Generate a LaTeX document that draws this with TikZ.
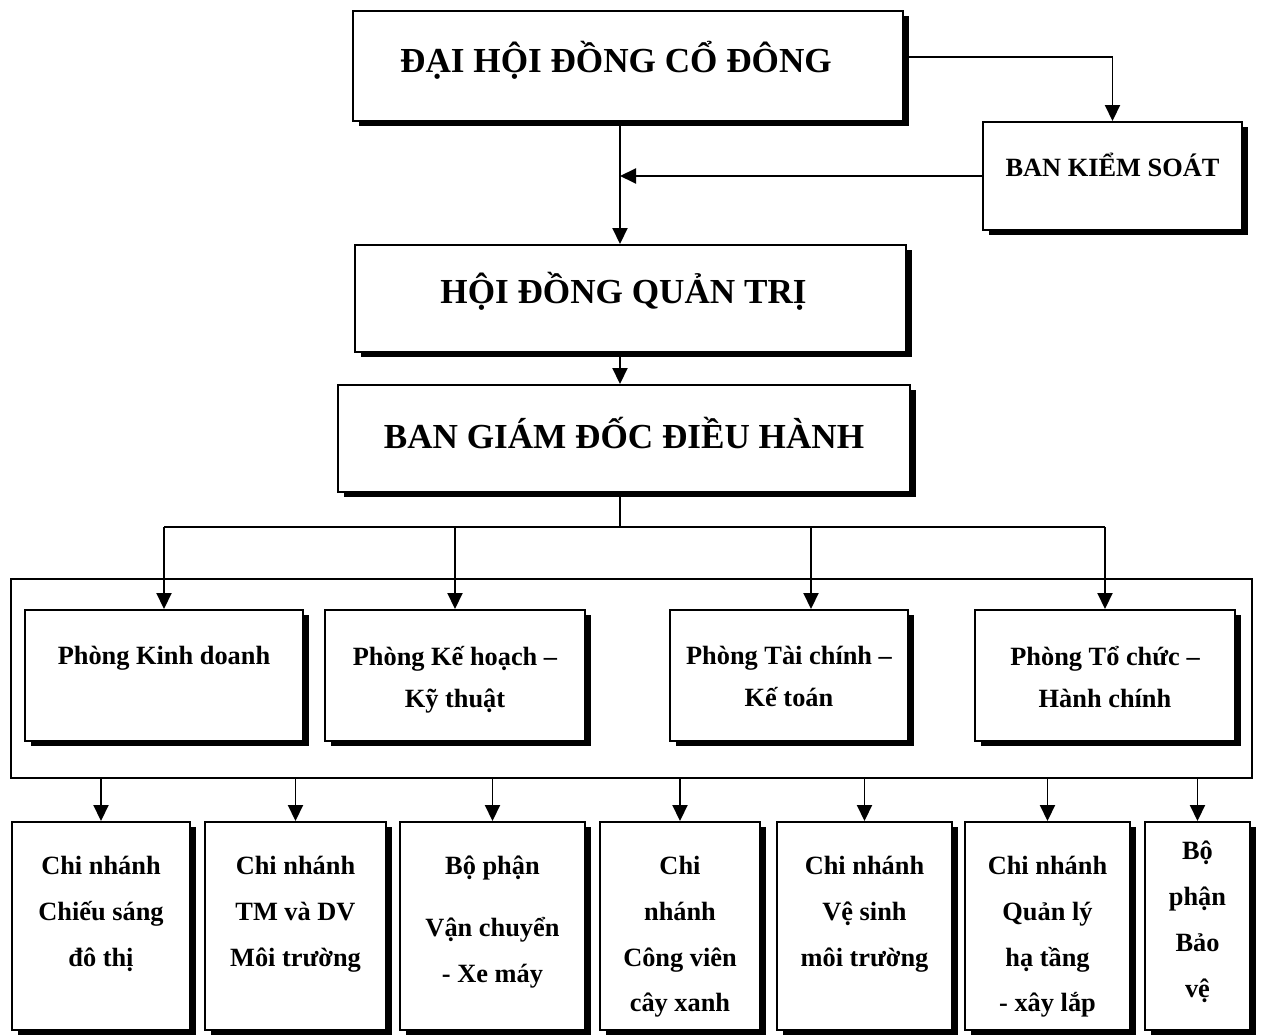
\documentclass[tikz,border=0pt]{standalone}
\usepackage{fontspec}
\setmainfont{Liberation Serif}
\usetikzlibrary{positioning,shadows,arrows.meta}
\tikzset{
  box/.style={draw, fill=white, line width=1.1pt, inner sep=0pt,
    drop shadow={shadow xshift=0.11cm, shadow yshift=-0.11cm, opacity=1, fill=black}},
  frame/.style={draw, line width=1.1pt, inner sep=0pt},
  title/.style={font=\fontsize{20}{24}\selectfont\bfseries, inner sep=0pt},
  lbl/.style={font=\fontsize{15}{26}\selectfont\bfseries, align=center, inner sep=0pt,
    execute at begin node=\strut},
  conn/.style={line width=1.1pt},
  arr/.style={-{Triangle[width=0.3cm,length=0.32cm]}}
}

\begin{document}
\begin{tikzpicture}
\useasboundingbox (0,0) rectangle (25.22,20.72);

% outer frame
\node[frame, minimum width=24.82cm, minimum height=3.98cm] (khoi) at (12.63,7.15) {};

% boxes
\node[box, minimum width=11cm, minimum height=2.2cm] (dhcd) at (12.56,19.40) {};
\node[box, minimum width=5.18cm, minimum height=2.16cm] (bks) at (22.25,17.20) {};
\node[box, minimum width=11.02cm, minimum height=2.14cm] (hdqt) at (12.61,14.75) {};
\node[box, minimum width=11.44cm, minimum height=2.14cm] (bgd) at (12.48,11.95) {};

\node[box, minimum width=5.56cm, minimum height=2.62cm] (pkd) at (3.28,7.21) {};
\node[box, minimum width=5.2cm, minimum height=2.62cm] (pkh) at (9.10,7.21) {};
\node[box, minimum width=4.76cm, minimum height=2.62cm] (ptc) at (15.78,7.21) {};
\node[box, minimum width=5.2cm, minimum height=2.62cm] (ptchc) at (22.10,7.21) {};

\node[box, minimum width=3.56cm, minimum height=4.16cm] (cs) at (2.02,2.20) {};
\node[box, minimum width=3.62cm, minimum height=4.16cm] (tmdv) at (5.91,2.20) {};
\node[box, minimum width=3.7cm, minimum height=4.16cm] (vc) at (9.85,2.20) {};
\node[box, minimum width=3.2cm, minimum height=4.16cm] (cvcx) at (13.60,2.20) {};
\node[box, minimum width=3.5cm, minimum height=4.16cm] (vs) at (17.29,2.20) {};
\node[box, minimum width=3.3cm, minimum height=4.16cm] (qlht) at (20.95,2.20) {};
\node[box, minimum width=2.1cm, minimum height=4.16cm] (bv) at (23.95,2.20) {};

% texts
\node[title] (dhcdt) at ([xshift=-0.24cm,yshift=0.12cm]dhcd.center) {ĐẠI HỘI ĐỒNG CỔ ĐÔNG};
\node[title, font=\fontsize{15}{18}\selectfont\bfseries] (bkst) at ([yshift=0.22cm]bks.center) {BAN KIỂM SOÁT};
\node[title] (hdqtt) at ([xshift=-0.14cm,yshift=0.15cm]hdqt.center) {HỘI ĐỒNG QUẢN TRỊ};
\node[title] (bgdt) at ([yshift=0.11cm]bgd.center) {BAN GIÁM ĐỐC ĐIỀU HÀNH};

\node[lbl, below=0.46cm of pkd.north] (pkdt) {Phòng Kinh doanh};
\node[lbl, below=0.74cm of pkh.north] (pkht) {Phòng Kế hoạch –\\[-2pt]Kỹ thuật};
\node[lbl, below=0.74cm of ptc.north] (ptct) {Phòng Tài chính –\\[-2pt]Kế toán};
\node[lbl, below=0.74cm of ptchc.north] (ptchct) {Phòng Tổ chức –\\[-2pt]Hành chính};

\node[lbl, below=0.7cm of cs.north] (cst) {Chi nhánh\\Chiếu sáng\\đô thị};
\node[lbl, below=0.7cm of tmdv.north] (tmdvt) {Chi nhánh\\TM và DV\\Môi trường};
\node[lbl, below=0.7cm of vc.north] (vct) {Bộ phận\\[9pt]Vận chuyển\\- Xe máy};
\node[lbl, below=0.7cm of cvcx.north] (cvcxt) {Chi\\nhánh\\Công viên\\cây xanh};
\node[lbl, below=0.7cm of vs.north] (vst) {Chi nhánh\\Vệ sinh\\môi trường};
\node[lbl, below=0.7cm of qlht.north] (qlhtt) {Chi nhánh\\Quản lý\\hạ tầng\\- xây lắp};
\node[lbl, below=0.4cm of bv.north] (bvt) {Bộ\\phận\\Bảo\\vệ};

% connectors
\coordinate (trunk) at (12.4,0);
\coordinate (bus) at (0,10.18);
\draw[conn, arr] ([yshift=0.18cm]dhcd.east) -| (bks.north);
\draw[conn, arr] (bks.west) -- (bks.west -| trunk);
\draw[conn, arr] (dhcd.south -| trunk) -- (hdqt.north -| trunk);
\draw[conn, arr] (hdqt.south -| trunk) -- (bgd.north -| trunk);
\draw[conn] (bgd.south -| trunk) -- (trunk |- bus);
\draw[conn] (pkd.north |- bus) -- (ptchc.north |- bus);
\foreach \p in {pkd,pkh,ptchc}
  \draw[conn, arr] (\p.north |- bus) -- (\p.north);
\draw[conn, arr] ([xshift=0.44cm]ptc.north |- bus) -- ([xshift=0.44cm]ptc.north);
\foreach \b in {cs,tmdv,vc,cvcx,vs,qlht,bv}
  \draw[conn, arr] (\b.north |- khoi.south) -- (\b.north);
\end{tikzpicture}
\end{document}
